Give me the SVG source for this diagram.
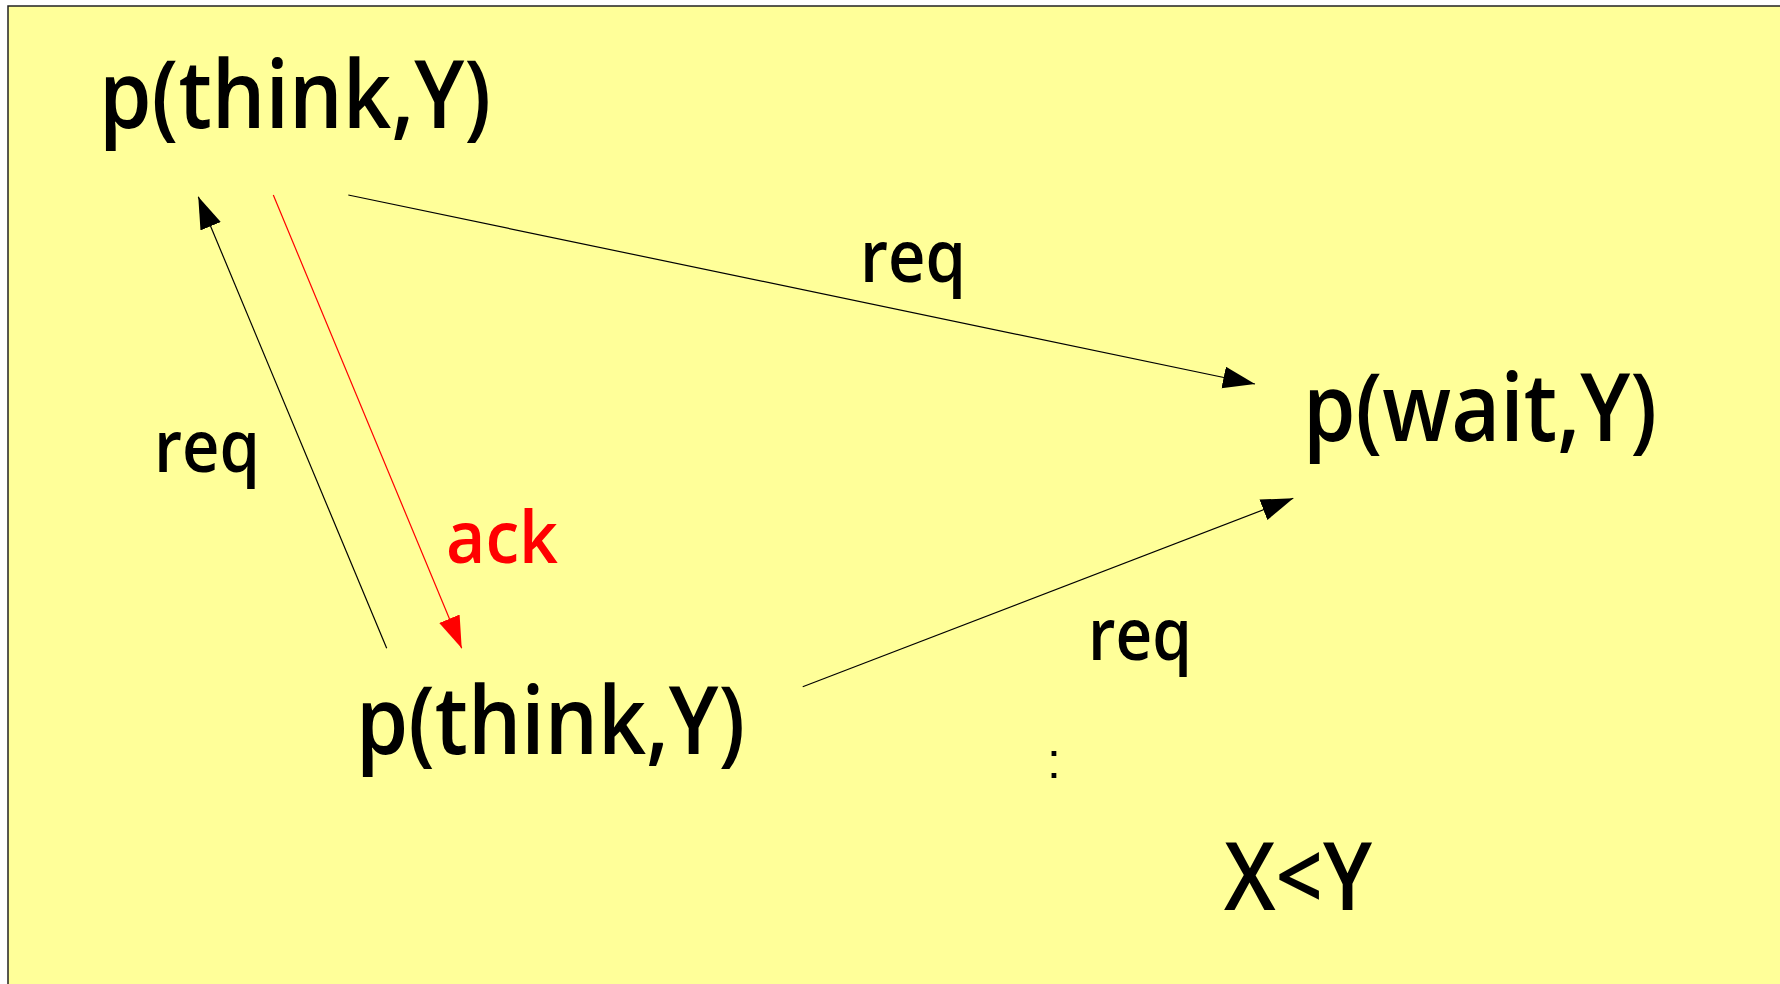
<svg xmlns="http://www.w3.org/2000/svg" width="1780" height="984" viewBox="0 0 1780 984">
  <style>
    .lbl { font-family: "Open Sans", "DejaVu Sans", sans-serif; font-weight: 600; fill: #000; }
    .big { font-size: 94px; }
    .small { font-size: 72px; }
    .edge { fill: none; stroke: #000; stroke-width: 1.2; }
    .edge-ack { fill: none; stroke: #ff0000; stroke-width: 1.2; }
  </style>
  <defs>
    <marker id="head" markerUnits="userSpaceOnUse" markerWidth="34" markerHeight="24" refX="32" refY="11" orient="auto">
      <path d="M0,0 L32,11 L0,22 z" fill="#000"/>
    </marker>
    <marker id="head-red" markerUnits="userSpaceOnUse" markerWidth="34" markerHeight="24" refX="32" refY="11" orient="auto">
      <path d="M0,0 L32,11 L0,22 z" fill="#ff0000"/>
    </marker>
  </defs>

  <!-- page background -->
  <rect x="0" y="0" width="1780" height="984" fill="#ffffff"/>
  <rect x="8" y="6" width="1790" height="990" fill="#ffff99" stroke="#222" stroke-width="1.5"/>

  <!-- connectors -->
  <g id="connectors">
    <line class="edge" x1="386.7" y1="648.3" x2="198.3" y2="196.7" marker-end="url(#head)"/>
    <line class="edge-ack" x1="273.3" y1="195" x2="461.7" y2="648.3" marker-end="url(#head-red)"/>
    <line class="edge" x1="348.3" y1="195" x2="1255" y2="384" marker-end="url(#head)"/>
    <line class="edge" x1="802.7" y1="686.7" x2="1293.3" y2="498.3" marker-end="url(#head)"/>
    <text class="lbl small" x="860" y="282" textLength="106" lengthAdjust="spacingAndGlyphs">req</text>
    <text class="lbl small" x="154" y="472" textLength="106" lengthAdjust="spacingAndGlyphs">req</text>
    <text class="lbl small" x="446" y="563" textLength="112" lengthAdjust="spacingAndGlyphs" style="fill:#ff0000">ack</text>
    <text class="lbl small" x="1088" y="660" textLength="104" lengthAdjust="spacingAndGlyphs">req</text>
  </g>

  <!-- nodes -->
  <g id="think-top">
    <text class="lbl big" x="99" y="128" textLength="392" lengthAdjust="spacingAndGlyphs">p(think,Y)</text>
  </g>
  <g id="wait">
    <text class="lbl big" x="1303" y="441" textLength="354" lengthAdjust="spacingAndGlyphs">p(wait,Y)</text>
  </g>
  <g id="think-bottom">
    <text class="lbl big" x="356" y="754" textLength="389" lengthAdjust="spacingAndGlyphs">p(think,Y)</text>
  </g>
  <g id="colon">
    <text x="1054" y="778" text-anchor="middle" style="font-family: 'Liberation Sans', sans-serif; font-size: 50px; fill: #000;">:</text>
  </g>
  <g id="condition">
    <text class="lbl big" x="1224" y="910" textLength="148" lengthAdjust="spacingAndGlyphs">X&lt;Y</text>
  </g>
</svg>
